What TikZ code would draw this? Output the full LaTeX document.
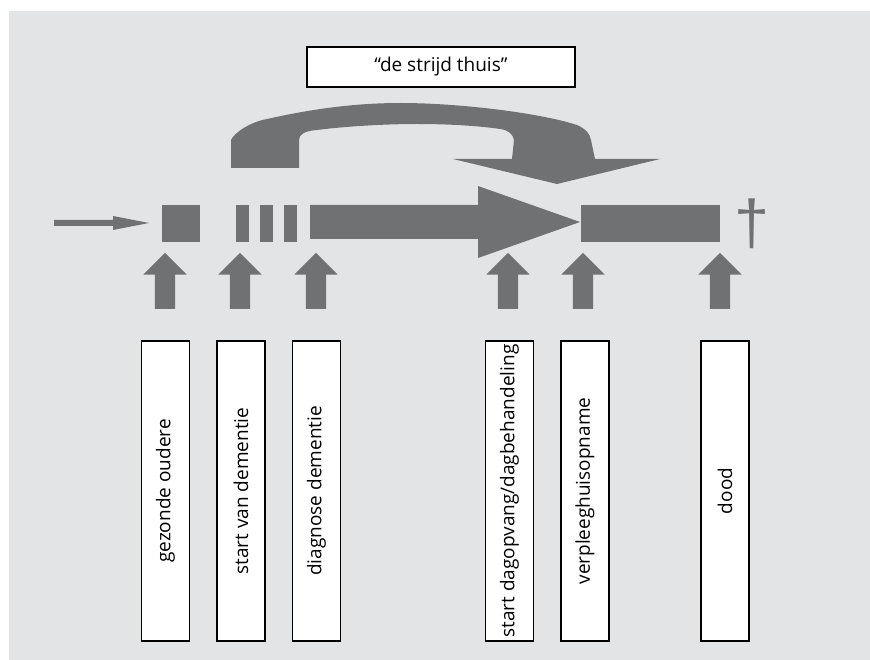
\documentclass[tikz,border=0pt]{standalone}
\usepackage{fontspec}
\setmainfont{Open Sans}
\newfontfamily\dagfont{Liberation Sans}
\usetikzlibrary{shapes.arrows}
\definecolor{bggray}{RGB}{227,228,230}
\definecolor{arrowgray}{RGB}{112,113,115}
\tikzset{
  lbl/.style={draw=black, line width=1.2pt, fill=white, rotate=90, minimum width=300pt, minimum height=48pt, inner sep=0pt, font=\fontsize{19}{21}\selectfont},
  uparrow/.style={single arrow, fill=arrowgray, draw=none, rotate=90, inner xsep=0pt, inner ysep=10pt, minimum height=56pt, single arrow head extend=11.5pt, single arrow head indent=0pt, single arrow tip angle=90},
  bar/.style={fill=arrowgray, draw=none, inner sep=0pt, minimum height=37pt}
}
\begin{document}
\begin{tikzpicture}[x=1pt,y=-1pt]
\useasboundingbox (0,0) rectangle (870,660);
\fill[white] (0,0) rectangle (870,660);
\fill[bggray] (9,11) rectangle (870,660);

% title box
\node[draw=black, line width=1.2pt, fill=white, minimum width=268pt, minimum height=40pt, inner sep=0pt, font=\fontsize{19}{21}\selectfont] (title) at (441,67) {“de strijd thuis”};

% curved arrow
\fill[arrowgray] (231,168) -- (231,140)
  .. controls (234,133) and (250,122) .. (267,119)
  .. controls (290,114) and (340,103) .. (400,103)
  .. controls (460,103) and (540,113) .. (577,125)
  .. controls (586,129) and (590,134) .. (591,140)
  -- (595,159) -- (660,159) -- (557,184) -- (453,159) -- (512,159) -- (514,140)
  .. controls (513,134) and (508,130) .. (500,129)
  .. controls (480,126) and (450,124) .. (417,124)
  .. controls (380,124) and (340,127) .. (317,130)
  .. controls (305,131) and (299,134) .. (299,140)
  -- (299,168) -- cycle;

% left thin arrow
\coordinate (start) at (54,223);
\fill[arrowgray] (start) ++(0,-3) -- (113,220) -- (113,216) -- (149,223) -- (113,230) -- (113,226) -- (54,226) -- cycle;

% squares and bars
\node[bar, minimum width=38pt] (sq) at (181,223.5) {};
\node[bar, minimum width=13pt] (b1) at (242.5,223.5) {};
\node[bar, minimum width=13pt] (b2) at (266.5,223.5) {};
\node[bar, minimum width=13pt] (b3) at (290.5,223.5) {};

% main arrow
\fill[arrowgray] (310,205) -- (478,205) -- (478,186) -- (580,222) -- (478,258) -- (478,239) -- (310,239) -- cycle;

% nursing home bar
\node[bar, minimum width=139pt] (nh) at (650.5,223.5) {};

% dagger
\node[text=arrowgray, font=\dagfont\fontsize{63}{63}\selectfont, inner sep=0pt] (dag) at (752,224) {†};

% up arrows
\node[uparrow] (u1) at (165,286) {};
\node[uparrow] (u2) at (240,286) {};
\node[uparrow] (u3) at (316,286) {};
\node[uparrow] (u4) at (508,286) {};
\node[uparrow] (u5) at (583,286) {};
\node[uparrow] (u6) at (720,286) {};

% label boxes
\node[lbl] (l1) at (165.5,491) {gezonde oudere};
\node[lbl] (l2) at (241,491) {start van dementie};
\node[lbl] (l3) at (316.5,491) {diagnose dementie};
\node[lbl] (l4) at (509.5,491) {start dagopvang/dagbehandeling};
\node[lbl] (l5) at (585,491) {verpleeghuisopname};
\node[lbl] (l6) at (725,491) {dood};
\end{tikzpicture}
\end{document}
